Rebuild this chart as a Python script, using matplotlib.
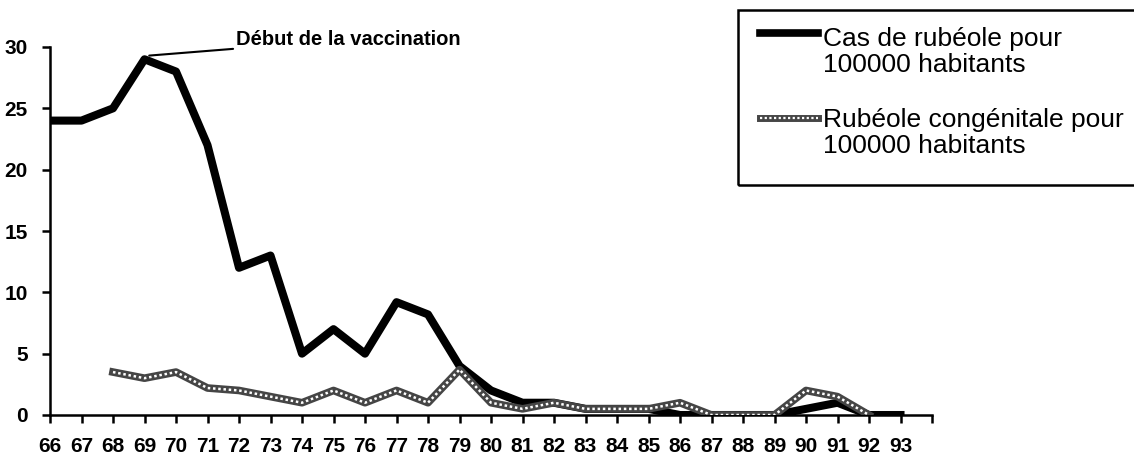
import matplotlib
matplotlib.use("Agg")
import matplotlib.pyplot as plt
from matplotlib.lines import Line2D
from matplotlib.patches import Rectangle

plt.rcParams['font.family'] = ['Liberation Sans', 'DejaVu Sans']

# years (2-digit)
years = list(range(66, 94))
# cas de rubeole pour 100000 habitants
cas = [24, 24, 25, 29, 28, 22, 12, 13, 5, 7, 5, 9.2, 8.2, 4,
       2, 1, 1, 0.5, 0.5, 0.5, 0, 0, 0, 0, 0.5, 1, 0, 0]
# rubeole congenitale (starts in 68, ends 92)
cong_years = list(range(68, 93))
cong = [3.5, 3, 3.5, 2.2, 2, 1.5, 1, 2, 1, 2, 1, 3.7,
        1, 0.5, 1, 0.5, 0.5, 0.5, 1, 0, 0, 0, 2, 1.5, 0]

tick_labels = [str(y) for y in years]
legend_labels = ["Cas de rubéole pour\n100000 habitants",
                 "Rubéole congénitale pour\n100000 habitants"]

W, H = 1134, 457
fig = plt.figure(figsize=(W / 100, H / 100), dpi=100)
ax = fig.add_axes([50 / W, 1 - 415 / H, (932 - 50) / W, (415 - 47) / H])

ax.plot(years, cas, color='black', lw=5.8, zorder=3)
# hatched grey line: dark base + white dots on top
ax.plot(cong_years, cong, color='#454545', lw=5.5, zorder=4)
ax.plot(cong_years, cong, color='white', lw=1.8, dashes=(1, 1.1), zorder=5)

ax.set_xlim(66, 94)
ax.set_ylim(0, 30)
ax.set_xticks(list(range(66, 95)))
ax.set_xticklabels(tick_labels + [''])
ax.set_yticks([0, 5, 10, 15, 20, 25, 30])

for s in ['top', 'right']:
    ax.spines[s].set_visible(False)
for s in ['left', 'bottom']:
    ax.spines[s].set_linewidth(1.8)
ax.tick_params(axis='both', direction='out', length=6, width=1.8, labelsize=15)
ax.tick_params(axis='x', pad=10)
ax.tick_params(axis='y', pad=10)
for lab in ax.get_xticklabels() + ax.get_yticklabels():
    lab.set_fontweight('bold')

ax.annotate("Début de la vaccination", xy=(69.15, 29.3), xytext=(71.9, 30.6),
            fontsize=14.5, fontweight='bold', va='center', ha='left',
            arrowprops=dict(arrowstyle='-', color='black', lw=1.5,
                            shrinkA=0, shrinkB=0),
            annotation_clip=False)

# legend drawn by hand (handles sit on first text line)
def fx(px):
    return px / W

def fy(py):
    return 1 - py / H

fig.add_artist(Rectangle((fx(738), fy(185)), fx(1160) - fx(738), fy(10) - fy(185),
                         transform=fig.transFigure, fill=False,
                         edgecolor='black', lw=1.8, clip_on=False))
fig.add_artist(Line2D([fx(760), fx(818)], [fy(33), fy(33)],
                      transform=fig.transFigure, color='black', lw=5.5))
fig.add_artist(Line2D([fx(760), fx(818)], [fy(118), fy(118)],
                      transform=fig.transFigure, color='#454545', lw=5))
fig.add_artist(Line2D([fx(760), fx(818)], [fy(118), fy(118)],
                      transform=fig.transFigure, color='white', lw=1.6,
                      dashes=(1, 1.1)))
fig.text(fx(823), fy(27), legend_labels[0], fontsize=19, va='top', ha='left',
         linespacing=1.1)
fig.text(fx(823), fy(108), legend_labels[1], fontsize=19, va='top', ha='left',
         linespacing=1.1)

fig.savefig("out.png", dpi=100)
